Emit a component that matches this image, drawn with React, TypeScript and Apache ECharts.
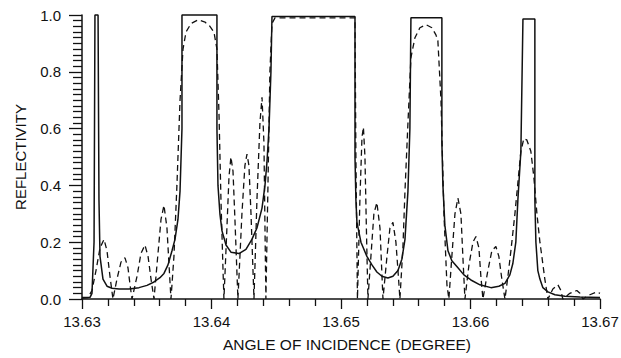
import React, { useEffect, useRef } from "react";
import * as echarts from "echarts";

const xTicks = [13.63, 13.64, 13.65, 13.66, 13.67];
const yTicks = [0, 0.2, 0.4, 0.6, 0.8, 1.0];
const xTitle = "ANGLE OF INCIDENCE (DEGREE)";
const yTitle = "REFLECTIVITY";

// solid curve: [angle, reflectivity]
const solidCurve: [number, number][] = [
  [13.63, 0.005], [13.63062, 0.006], [13.63077, 0.02], [13.63093, 0.2], [13.631, 1.0],
  [13.63124, 1.0], [13.63131, 0.35], [13.63139, 0.15], [13.63162, 0.07], [13.63193, 0.045],
  [13.63232, 0.038], [13.63286, 0.035], [13.63363, 0.035], [13.6344, 0.04], [13.63502, 0.048],
  [13.63556, 0.06], [13.63602, 0.075], [13.63633, 0.09], [13.63664, 0.12], [13.63695, 0.17],
  [13.63718, 0.21], [13.63741, 0.28], [13.63757, 0.38], [13.63772, 0.6], [13.63772, 1.0],
  [13.64042, 1.0], [13.64042, 0.6], [13.6405, 0.4], [13.64065, 0.3], [13.64081, 0.24],
  [13.64112, 0.19], [13.6415, 0.165], [13.64212, 0.16], [13.64266, 0.175], [13.64312, 0.21],
  [13.64351, 0.25], [13.6439, 0.32], [13.64413, 0.4], [13.64428, 0.48], [13.64444, 0.6],
  [13.64459, 0.8], [13.64467, 0.995], [13.65108, 0.995], [13.65108, 0.5], [13.65115, 0.35],
  [13.65123, 0.27], [13.65154, 0.2], [13.652, 0.15], [13.65239, 0.12], [13.65277, 0.095],
  [13.65316, 0.08], [13.65362, 0.074], [13.65401, 0.08], [13.6544, 0.1], [13.6547, 0.14],
  [13.65494, 0.21], [13.65517, 0.38], [13.65532, 0.6], [13.6554, 0.99], [13.65779, 0.99],
  [13.65779, 0.55], [13.65787, 0.4], [13.65802, 0.26], [13.65826, 0.17], [13.65856, 0.135],
  [13.65903, 0.11], [13.65949, 0.085], [13.66003, 0.067], [13.66073, 0.05], [13.66158, 0.04],
  [13.66219, 0.045], [13.66266, 0.055], [13.66304, 0.085], [13.66327, 0.125], [13.6635, 0.2],
  [13.66366, 0.35], [13.66389, 0.52], [13.66405, 0.986], [13.66497, 0.986], [13.66497, 0.35],
  [13.66505, 0.2], [13.6652, 0.1], [13.66536, 0.07], [13.66559, 0.04], [13.66598, 0.025],
  [13.66652, 0.015], [13.66729, 0.01], [13.66845, 0.007], [13.67, 0.005],
];

// dashed curve: [angle, reflectivity]
const dashedCurve: [number, number][] = [
  [13.63, 0.003], [13.63046, 0.005], [13.63077, 0.03], [13.63108, 0.1], [13.63139, 0.18],
  [13.6317, 0.21], [13.63193, 0.17], [13.63216, 0.08], [13.63239, 0],
  [13.6327, 0.07], [13.63301, 0.13], [13.63332, 0.145], [13.63355, 0.11], [13.63371, 0.05], [13.63386, 0],
  [13.63425, 0.08], [13.63455, 0.16], [13.63486, 0.19], [13.6351, 0.15], [13.63533, 0.07], [13.63556, 0],
  [13.63579, 0.12], [13.6361, 0.28], [13.63633, 0.33], [13.63656, 0.25], [13.63672, 0.12], [13.63687, 0],
  [13.6371, 0.15], [13.63733, 0.4], [13.63757, 0.7], [13.6378, 0.88], [13.63803, 0.94],
  [13.63842, 0.97], [13.63896, 0.983], [13.6395, 0.975], [13.63988, 0.96], [13.64019, 0.94],
  [13.64042, 0.88], [13.64058, 0.65], [13.64073, 0.35], [13.64089, 0.1], [13.64096, 0],
  [13.64119, 0.25], [13.64135, 0.43], [13.6415, 0.5], [13.64166, 0.45], [13.64181, 0.28], [13.64204, 0],
  [13.64235, 0.3], [13.64258, 0.47], [13.64274, 0.51], [13.64289, 0.47], [13.64305, 0.3], [13.64328, 0],
  [13.64351, 0.35], [13.64374, 0.62], [13.6439, 0.71], [13.64405, 0.55], [13.64413, 0.25], [13.6442, 0],
  [13.64436, 0.4], [13.64451, 0.8], [13.64467, 0.97], [13.6449, 0.99], [13.65108, 0.99],
  [13.65115, 0.5], [13.65127, 0],
  [13.65146, 0.35], [13.65162, 0.57], [13.65173, 0.605], [13.65185, 0.5], [13.65196, 0.25], [13.65208, 0],
  [13.65231, 0.15], [13.65254, 0.3], [13.65277, 0.34], [13.65301, 0.25], [13.65324, 0],
  [13.65355, 0.15], [13.65378, 0.25], [13.65401, 0.27], [13.65424, 0.2], [13.6544, 0.1], [13.65455, 0],
  [13.65478, 0.18], [13.65494, 0.38], [13.65517, 0.62], [13.6554, 0.85], [13.65571, 0.92],
  [13.65609, 0.955], [13.65656, 0.966], [13.65702, 0.955], [13.65733, 0.93], [13.65748, 0.91],
  [13.65772, 0.7], [13.65795, 0.3], [13.65818, 0.05], [13.65833, 0],
  [13.65856, 0.15], [13.6588, 0.3], [13.65903, 0.355], [13.65926, 0.3], [13.65941, 0.15], [13.65957, 0],
  [13.65988, 0.12], [13.66019, 0.2], [13.66042, 0.22], [13.66065, 0.18], [13.6608, 0.08], [13.66096, 0],
  [13.66134, 0.1], [13.66165, 0.17], [13.66196, 0.185], [13.66219, 0.15], [13.66242, 0.07], [13.66266, 0],
  [13.66289, 0.08], [13.66312, 0.17], [13.66343, 0.3], [13.66366, 0.41], [13.66389, 0.52],
  [13.66412, 0.565], [13.66435, 0.56], [13.66466, 0.52], [13.66489, 0.43], [13.66513, 0.3],
  [13.66536, 0.2], [13.66551, 0.15], [13.66574, 0.07], [13.66598, 0],
  [13.66636, 0.035], [13.66675, 0.05], [13.66698, 0.03], [13.66713, 0],
  [13.66767, 0.02], [13.66821, 0.03], [13.66845, 0.02], [13.66868, 0],
  [13.66922, 0.015], [13.66976, 0.025], [13.67, 0.02],
];

const FONT = "'Liberation Sans', Arial, Helvetica, sans-serif";
const INK = "#111";

export default function App() {
  const ref = useRef<HTMLDivElement>(null);
  useEffect(() => {
    if (!ref.current) return;
    const chart = echarts.init(ref.current, null, { renderer: "svg" });
    chart.setOption({
      animation: false,
      backgroundColor: "#ffffff",
      grid: { left: 82, right: 21, top: 15, bottom: 59, outerBoundsMode: "none" },
      xAxis: {
        type: "value",
        min: xTicks[0],
        max: xTicks[xTicks.length - 1],
        interval: 0.01,
        name: xTitle,
        nameLocation: "middle",
        nameGap: 37,
        nameTextStyle: { fontFamily: FONT, fontSize: 15.5, color: INK, padding: [0, 0, 0, 12] },
        axisLine: { show: true, lineStyle: { color: INK, width: 1.5 } },
        axisTick: { show: true, length: 10, lineStyle: { color: INK, width: 1.3 } },
        minorTick: { show: true, splitNumber: 5, length: 7, lineStyle: { color: INK, width: 1.3 } },
        axisLabel: {
          margin: 15,
          fontFamily: FONT,
          fontSize: 15,
          color: INK,
          formatter: (v: number) => v.toFixed(2),
        },
        splitLine: { show: false },
        minorSplitLine: { show: false },
      },
      yAxis: {
        type: "value",
        min: yTicks[0],
        max: yTicks[yTicks.length - 1],
        interval: 0.2,
        name: yTitle,
        nameLocation: "middle",
        nameGap: 54,
        nameTextStyle: { fontFamily: FONT, fontSize: 15, color: INK },
        axisLine: { show: true, lineStyle: { color: INK, width: 1.5 } },
        axisTick: { show: true, length: 13, lineStyle: { color: INK, width: 1.3 } },
        minorTick: { show: true, splitNumber: 10, length: 9, lineStyle: { color: INK, width: 1.3 } },
        axisLabel: {
          margin: 21,
          fontFamily: FONT,
          fontSize: 15,
          color: INK,
          formatter: (v: number) => v.toFixed(1),
        },
        splitLine: { show: false },
        minorSplitLine: { show: false },
      },
      series: [
        {
          name: "solid",
          type: "line",
          data: solidCurve,
          showSymbol: false,
          symbol: "none",
          clip: false,
          lineStyle: { color: INK, width: 1.5, type: "solid" },
          z: 3,
        },
        {
          name: "dashed",
          type: "line",
          data: dashedCurve,
          showSymbol: false,
          symbol: "none",
          clip: false,
          lineStyle: { color: INK, width: 1.3, type: [6, 4] },
          z: 2,
        },
      ],
    });
    return () => chart.dispose();
  }, []);
  return (
    <div
      ref={ref}
      style={{ position: "absolute", left: 0, top: 0, width: 621, height: 358, background: "#fff" }}
    />
  );
}
